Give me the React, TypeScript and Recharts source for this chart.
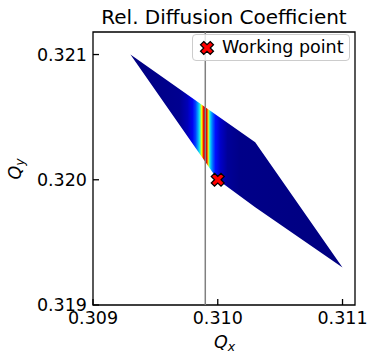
import React from "react";
import {
  Area,
  ComposedChart,
  Legend,
  ReferenceArea,
  ReferenceLine,
  Scatter,
  XAxis,
  YAxis,
} from "recharts";

// footprint outline (upper and lower edge at the same Qx)
const qxPoints = [0.3093, 0.31, 0.3103, 0.311];
const qyUpper = [0.321, 0.32051, 0.3203, 0.3193];
const qyLower = [0.321, 0.32, 0.31978, 0.3193];

const workingPoint = [{ qx: 0.31, qy: 0.32 }];
const resonanceQx = 0.3099;

const xTicks = [0.309, 0.31, 0.311];
const yTicks = [0.319, 0.32, 0.321];
const xDomain = [0.309, 0.3111];
const yDomain = [0.319, 0.32118];

const footprint = qxPoints.map((qx, i) => ({
  qx,
  range: [qyLower[i], qyUpper[i]],
}));

// jet-like colouring of the diffusion band (offsets across the footprint width)
const bandStops: [number, string][] = [
  [0, "#000080"],
  [0.231, "#000090"],
  [0.269, "#0000b8"],
  [0.292, "#0000f0"],
  [0.307, "#0040ff"],
  [0.318, "#00a0ff"],
  [0.327, "#20f0e0"],
  [0.332, "#90ff70"],
  [0.336, "#ffff00"],
  [0.34, "#ff9000"],
  [0.344, "#ff1000"],
  [0.349, "#b00000"],
  [0.354, "#800000"],
  [0.358, "#d00000"],
  [0.362, "#ff4000"],
  [0.366, "#ffc000"],
  [0.369, "#c0ff40"],
  [0.374, "#20f0e0"],
  [0.38, "#00b0ff"],
  [0.389, "#0060ff"],
  [0.401, "#0010ff"],
  [0.425, "#0000c8"],
  [0.458, "#000098"],
  [0.514, "#000088"],
  [1, "#000080"],
];

const FONT = "DejaVu Sans";
const FS = 17.5;

function xMarkerPath(cx: number, cy: number, s: number) {
  const pts = [
    [-1, -2], [0, -1], [1, -2], [2, -1], [1, 0], [2, 1],
    [1, 2], [0, 1], [-1, 2], [-2, 1], [-1, 0], [-2, -1],
  ];
  const u = s / 4;
  return (
    pts.map(([px, py], i) => `${i ? "L" : "M"}${cx + px * u},${cy + py * u}`).join(" ") + "Z"
  );
}

function WorkingMarker(props: any) {
  const { cx, cy } = props;
  return (
    <path d={xMarkerPath(cx, cy, 13)} fill="#ff0000" stroke="#000" strokeWidth={1.2} />
  );
}

function XTick(props: any) {
  const { x, y, payload } = props;
  return (
    <g>
      <line x1={x} x2={x} y1={y} y2={y - 6} stroke="#000" strokeWidth={1.3} />
      <text x={x} y={y + 18.5} textAnchor="middle" fontSize={FS} fontFamily={FONT} fill="#000">
        {payload.value.toFixed(3)}
      </text>
    </g>
  );
}

function YTick(props: any) {
  const { x, y, payload } = props;
  return (
    <g>
      <line x1={x} x2={x + 6} y1={y} y2={y} stroke="#000" strokeWidth={1.3} />
      <text x={x - 6} y={y + 6.4} textAnchor="end" fontSize={FS} fontFamily={FONT} fill="#000">
        {payload.value.toFixed(3)}
      </text>
    </g>
  );
}

function QxLabel(props: any) {
  const { viewBox } = props;
  const x = viewBox.x + viewBox.width / 2 - 10;
  const y = viewBox.y + 43;
  return (
    <text x={x} y={y} fontSize={FS} fontFamily={FONT} fontStyle="italic" fill="#000">
      Q<tspan fontSize={12.5} dy={3}>x</tspan>
    </text>
  );
}

function QyLabel(props: any) {
  const { viewBox } = props;
  const x = 21;
  const y = viewBox.y + viewBox.height / 2 + 11;
  return (
    <text
      x={x}
      y={y}
      transform={`rotate(-90, ${x}, ${y})`}
      fontSize={FS}
      fontFamily={FONT}
      fontStyle="italic"
      fill="#000"
    >
      Q<tspan fontSize={12.5} dy={3}>y</tspan>
    </text>
  );
}

function LegendBox() {
  return (
    <div
      style={{
        display: "flex",
        alignItems: "center",
        gap: 6,
        height: 25,
        padding: "0 5px 0 5px",
        background: "rgba(255,255,255,0.8)",
        border: "1px solid #cccccc",
        borderRadius: 4,
        fontFamily: FONT,
        fontSize: FS,
        color: "#000",
        lineHeight: 1,
      }}
    >
      <svg width={18} height={18}>
        <path d={xMarkerPath(9, 9, 13)} fill="#ff0000" stroke="#000" strokeWidth={1.2} />
      </svg>
      <span>Working point</span>
    </div>
  );
}

export default function App() {
  return (
    <div style={{ position: "absolute", left: 0, top: 0, width: 369, height: 353, background: "#fff" }}>
      <svg
        width={369}
        height={30}
        style={{ position: "absolute", left: 0, top: 0, pointerEvents: "none" }}
      >
        <text x={224} y={24} textAnchor="middle" fontSize={20} fontFamily={FONT} fill="#000">
          Rel. Diffusion Coefficient
        </text>
      </svg>
      <ComposedChart
        width={369}
        height={353}
        data={footprint}
        margin={{ top: 32, right: 14, bottom: 0, left: 0 }}
      >
        <defs>
          <linearGradient id="band" x1="0" y1="0" x2="1" y2="0">
            {bandStops.map(([o, c]) => (
              <stop key={o} offset={o} stopColor={c} />
            ))}
          </linearGradient>
        </defs>
        <XAxis
          dataKey="qx"
          type="number"
          domain={xDomain}
          ticks={xTicks}
          interval={0}
          allowDataOverflow
          height={48}
          axisLine={false}
          tickLine={false}
          tickSize={0}
          tickMargin={0}
          tick={<XTick />}
          label={<QxLabel />}
        />
        <YAxis
          type="number"
          domain={yDomain}
          ticks={yTicks}
          interval={0}
          allowDataOverflow
          width={93}
          axisLine={false}
          tickLine={false}
          tickSize={0}
          tickMargin={0}
          tick={<YTick />}
          label={<QyLabel />}
        />
        <ReferenceLine x={resonanceQx} stroke="#808080" strokeWidth={1.5} />
        <Area
          type="linear"
          dataKey="range"
          fill="url(#band)"
          fillOpacity={1}
          stroke="none"
          dot={false}
          activeDot={false}
          isAnimationActive={false}
        />
        <Scatter
          name="Working point"
          data={workingPoint}
          dataKey="qy"
          shape={<WorkingMarker />}
          isAnimationActive={false}
        />
        <ReferenceArea
          x1={xDomain[0]}
          x2={xDomain[1]}
          y1={yDomain[0]}
          y2={yDomain[1]}
          fill="none"
          stroke="#000"
          strokeWidth={1.3}
        />
        <Legend
          layout="horizontal"
          verticalAlign="middle"
          align="center"
          content={<LegendBox />}
          wrapperStyle={{ position: "absolute", left: 192, top: 34, width: "auto" }}
        />
      </ComposedChart>
    </div>
  );
}
